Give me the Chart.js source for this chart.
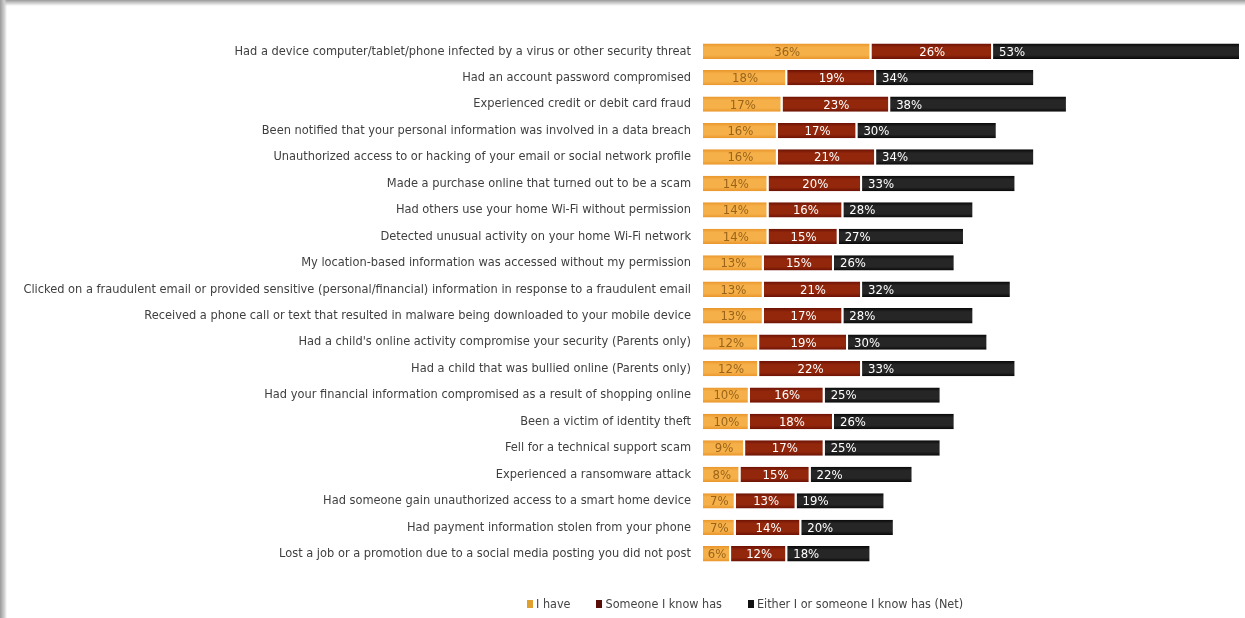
<!DOCTYPE html>
<html>
<head>
<meta charset="utf-8">
<script src="https://cdn.jsdelivr.net/npm/chart.js@4"></script>
<style>
  html, body { margin: 0; padding: 0; background: #fff; }
  #wrap { position: relative; width: 1245px; height: 618px; overflow: hidden; background: #fff; }
  #chart { position: absolute; left: 0; top: 0; }
  .edge-top { position: absolute; left: 0; top: 0; width: 1245px; height: 6px;
    background: linear-gradient(to bottom, #9a9a9a, #d8d8d8 60%, rgba(255,255,255,0)); }
  .edge-left { position: absolute; left: 0; top: 0; width: 7px; height: 618px;
    background: linear-gradient(to right, #9a9a9a, #cfcfcf 60%, rgba(255,255,255,0)); }
  #legend {
    position: absolute; left: 527px; top: 596px;
    display: flex; align-items: center;
    font-family: 'Liberation Sans Narrow', 'DejaVu Sans Condensed', sans-serif;
    font-size: 12.5px; color: #444;
  }
  #legend span.item { display: flex; align-items: center; margin-right: 26px; }
  #legend i { display: inline-block; width: 6px; height: 8px; margin-right: 3px; }
</style>
</head>
<body>
<div id="wrap">
  <canvas id="chart" width="1245" height="618"></canvas>
  <div class="edge-top"></div>
  <div class="edge-left"></div>
  <div id="legend"></div>
</div>
<script>
/* ── Online security incidents — stacked bars ── */

const categories = [
  'Had a device computer/tablet/phone infected by a virus or other security threat',
  'Had an account password compromised',
  'Experienced credit or debit card fraud',
  'Been notified that your personal information was involved in a data breach',
  'Unauthorized access to or hacking of your email or social network profile',
  'Made a purchase online that turned out to be a scam',
  'Had others use your home Wi-Fi without permission',
  'Detected unusual activity on your home Wi-Fi network',
  'My location-based information was accessed without my permission',
  'Clicked on a fraudulent email or provided sensitive (personal/financial) information in response to a fraudulent email',
  'Received a phone call or text that resulted in malware being downloaded to your mobile device',
  "Had a child's online activity compromise your security (Parents only)",
  'Had a child that was bullied online (Parents only)',
  'Had your financial information compromised as a result of shopping online',
  'Been a victim of identity theft',
  'Fell for a technical support scam',
  'Experienced a ransomware attack',
  'Had someone gain unauthorized access to a smart home device',
  'Had payment information stolen from your phone',
  'Lost a job or a promotion due to a social media posting you did not post'
];

const iHave       = [36, 18, 17, 16, 16, 14, 14, 14, 13, 13, 13, 12, 12, 10, 10, 9, 8, 7, 7, 6];
const someoneHas  = [26, 19, 23, 17, 21, 20, 16, 15, 15, 21, 17, 19, 22, 16, 18, 17, 15, 13, 14, 12];
const eitherNet   = [53, 34, 38, 30, 34, 33, 28, 27, 26, 32, 28, 30, 33, 25, 26, 25, 22, 19, 20, 18];

const seriesNames = ['I have', 'Someone I know has', 'Either I or someone I know has (Net)'];
// [edge, middle] shades for the soft bevel on each bar
const seriesShades = [['#e9962a', '#f6b04a'], ['#6c1104', '#92270c'], ['#080808', '#262626']];
const legendColors = ['#e0a030', '#5a0c06', '#111111'];
const labelColors = ['#9a6418', '#ffffff', '#ffffff'];

const FONT = "'Liberation Sans Narrow', 'DejaVu Sans Condensed', sans-serif";
const BAR_PCT = 0.58;

function barFill(i) {
  return (c) => {
    const chart = c.chart;
    const y = chart.scales.y;
    if (!y || c.dataIndex === undefined) return seriesShades[i][1];
    const mid = y.getPixelForValue(c.dataIndex);
    const half = (y.height / categories.length) * BAR_PCT / 2;
    if (!isFinite(mid) || !isFinite(half) || half <= 0) return seriesShades[i][1];
    const g = chart.ctx.createLinearGradient(0, mid - half, 0, mid + half);
    g.addColorStop(0, seriesShades[i][0]);
    g.addColorStop(0.25, seriesShades[i][1]);
    g.addColorStop(0.75, seriesShades[i][1]);
    g.addColorStop(1, seriesShades[i][0]);
    return g;
  };
}

// value labels: first two series centred, net series pinned to the bar start
const barLabels = {
  id: 'barLabels',
  afterDatasetsDraw(chart) {
    const ctx = chart.ctx;
    ctx.save();
    ctx.font = '13px ' + FONT;
    ctx.textBaseline = 'middle';
    chart.data.datasets.forEach((ds, i) => {
      const meta = chart.getDatasetMeta(i);
      meta.data.forEach((bar, j) => {
        const text = ds.data[j] + '%';
        ctx.fillStyle = labelColors[i];
        if (i === 2) {
          ctx.textAlign = 'left';
          ctx.fillText(text, bar.base + 6, bar.y + 1);
        } else {
          ctx.textAlign = 'center';
          ctx.fillText(text, (bar.base + bar.x) / 2, bar.y + 1);
        }
      });
    });
    ctx.restore();
  }
};

const makeSet = (i, data) => ({
  label: seriesNames[i],
  data: data,
  backgroundColor: barFill(i),
  borderColor: '#ffffff',
  borderWidth: { left: 0, right: 2, top: 0, bottom: 0 },
  borderSkipped: false,
  barPercentage: BAR_PCT,
  categoryPercentage: 1
});

new Chart(document.getElementById('chart'), {
  type: 'bar',
  data: {
    labels: categories,
    datasets: [makeSet(0, iHave), makeSet(1, someoneHas), makeSet(2, eitherNet)]
  },
  options: {
    indexAxis: 'y',
    responsive: false,
    animation: false,
    layout: { padding: { left: 0, right: 4, top: 38, bottom: 51 } },
    plugins: {
      legend: { display: false },
      tooltip: { enabled: false }
    },
    scales: {
      x: {
        stacked: true, display: false, min: 0, max: 115
      },
      y: {
        stacked: true,
        grid: { display: false, drawTicks: false },
        border: { display: false },
        ticks: {
          color: '#3f3f3f', padding: 12,
          font: { family: FONT, size: 12.7 }
        },
        afterFit(scale) { scale.width = 703; }
      }
    }
  },
  plugins: [barLabels]
});

const legend = document.getElementById('legend');
seriesNames.forEach((name, i) => {
  const item = document.createElement('span');
  item.className = 'item';
  item.innerHTML = '<i style="background:' + legendColors[i] + '"></i>' + name;
  legend.appendChild(item);
});
</script>
</body>
</html>
